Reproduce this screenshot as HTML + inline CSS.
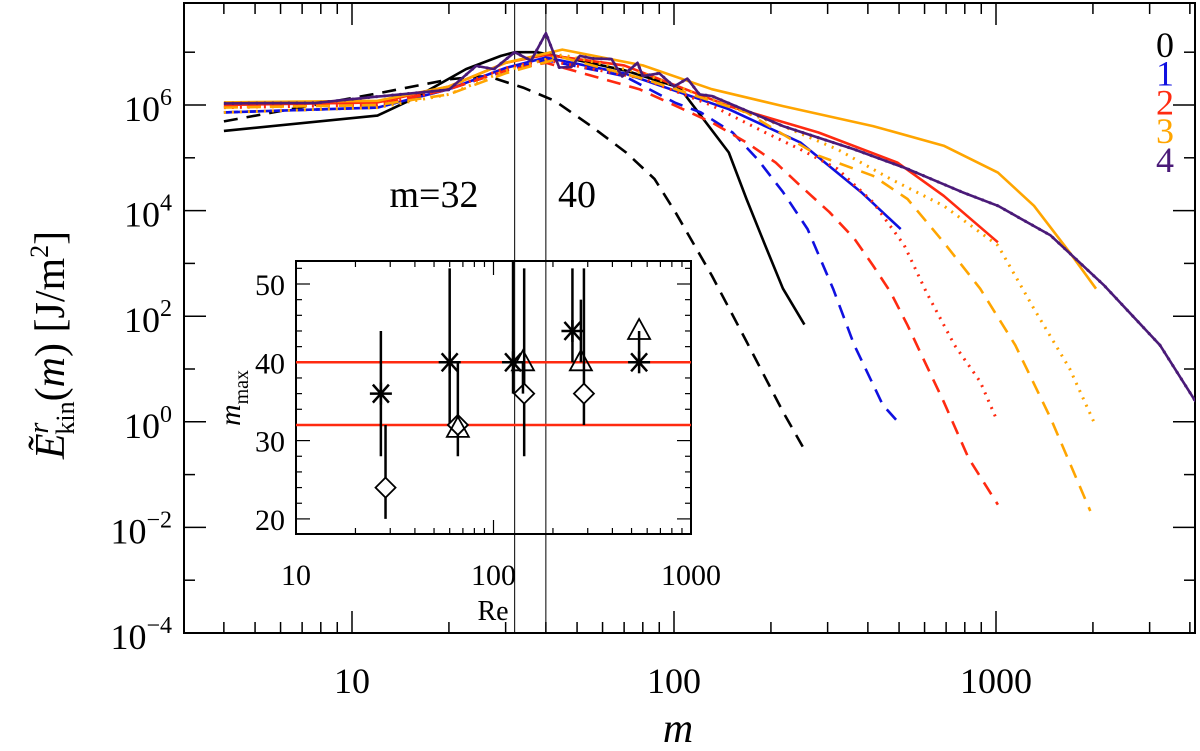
<!DOCTYPE html>
<html><head><meta charset="utf-8"><style>
html,body{margin:0;padding:0;background:#fff;}
svg{display:block;font-family:"Liberation Serif",serif;}
</style></head><body>
<svg id="chart" width="1200" height="751" viewBox="0 0 1200 751" xmlns="http://www.w3.org/2000/svg"></svg>
<script>
// ---------- main plot data (m, log10 E) ----------
const m0solid=[4,12,15.4,22.6,29,32,37.5,48.5,71,104,148,168,192,218,254];
const e0solid=[5.51,5.8,6.11,6.68,6.93,7.0,7.0,6.87,6.65,6.33,5.1,4.22,3.34,2.52,1.84];
const m0dash=[4,12,20.3,26.3,34,42.6,55,71,87,101,131,168,218,251];
const e0dash=[5.69,6.22,6.49,6.55,6.33,6.08,5.61,5.1,4.6,3.97,2.77,1.52,0.19,-0.47];
const m1solid=[4,12,20,30,40,70,148,247,381,506];
const e1solid=[5.86,5.95,6.3,6.7,6.9,6.6,5.92,5.29,4.35,3.65];
const m1dash=[4,12,20,30,40,70,101,121,152,182,218,260,312,363,445,506];
const e1dash=[5.86,5.95,6.3,6.65,6.85,6.55,6.04,5.86,5.48,4.97,4.35,3.65,2.52,1.45,0.32,-0.06];
const m2solid=[4,12,20,30,40,70,148,281,494,688,1014];
const e2solid=[6.0,6.05,6.35,6.8,6.95,6.75,5.98,5.48,4.91,4.28,3.4];
const m2dash=[4,12,20,30,40,78,131,168,207,247,304,363,415,470,531,607,688,822,1014];
const e2dash=[5.97,6.0,6.3,6.65,6.8,6.3,5.67,5.29,4.91,4.47,3.97,3.47,2.96,2.46,1.83,1.08,0.38,-0.69,-1.57];
const m2dot=[4,12,20,30,40,80,130,192,247,322,415,519,607,744,893,1000];
const e2dot=[5.95,6.0,6.3,6.7,6.85,6.5,6.0,5.48,5.16,4.79,4.16,3.34,2.46,1.45,0.76,0.07];
const m3solid=[4,12,20,30,45,80,131,218,415,688,1014,1312,1693,2045];
const e3solid=[6.05,6.08,6.35,6.8,7.05,6.75,6.3,5.98,5.6,5.23,4.72,4.09,3.21,2.52];
const m3dash=[4,12,20,30,45,80,168,281,415,531,688,893,1148,1478,1963];
const e3dash=[5.95,6.0,6.2,6.6,6.9,6.5,5.86,5.04,4.66,4.22,3.4,2.52,1.45,0.07,-1.69];
const m3dot=[4,12,20,30,45,80,131,218,322,470,688,1014,1312,1693,2045];
const e3dot=[5.86,5.95,6.2,6.65,6.95,6.6,6.1,5.6,5.16,4.6,4.09,3.34,2.14,1.01,-0.09];
const m4solid=[4,7.7,12,20,24.3,27.6,32,36,40,44,48,51,56,64,69,77,80,90,100,110,120,131,218,363,531,785,1014,1478,2170,3230,4170];
const e4solid=[6.03,6.04,6.16,6.29,6.74,6.68,7.0,6.84,7.36,6.71,6.72,6.93,6.88,6.87,6.54,6.8,6.55,6.6,6.35,6.5,6.2,6.17,5.6,5.16,4.79,4.35,4.09,3.53,2.58,1.45,0.38];
// ---------- inset data ----------
const starRe=[26.9,60,125.6,251,546];
const starM=[36,40,40,44,40];
const starLo=[28,32,36,40,40];
const starHi=[44,52,56,52,40];
const diaRe=[28.4,66,143,287];
const diaM=[24,32,36,36];
const diaLo=[20,28,28,32];
const diaHi=[32,40,52,52];
const triRe=[66,141,277,546];
const triM=[31.5,40,40,44];
const triLo=[31.5,36,40,40];
const triHi=[31.5,40,48,44];
const refLines=[32,40];
const vLines=[32,40];
const legendLabels=['0','1','2','3','4'];
const xTickLabels=['10','100','1000'];

const NS='http://www.w3.org/2000/svg';
const svg=document.getElementById('chart');
function mk(tag,attrs,parent){const e=document.createElementNS(NS,tag);for(const k in attrs)e.setAttribute(k,attrs[k]);(parent||svg).appendChild(e);return e;}
const L=184,R=1195,T=3,B=633;
const xs=m=>352+(Math.log10(m)-1)*322;
const ys=le=>B-(le+4)*52.8;
const IL=296,IR=691,IT=261,IB=534;
const ixs=r=>IL+(Math.log10(r)-1)*197.5;
const iys=v=>284+(50-v)*7.83;

const defs=mk('defs',{});
const cp=mk('clipPath',{id:'plotclip'},defs);
mk('rect',{x:L,y:T,width:R-L,height:B-T},cp);

const gAx=mk('g',{});


mk('rect',{x:L,y:T,width:R-L,height:B-T,fill:'none',stroke:'#000','stroke-width':2},gAx);
for(let d=0;d<=3;d++){for(let k=1;k<10;k++){const m=Math.pow(10,d)*k;const x=xs(m);if(x<L||x>R)continue;const len=k===1?22:11;
mk('line',{x1:x,y1:B,x2:x,y2:B-len,stroke:'#000','stroke-width':1.5},gAx);mk('line',{x1:x,y1:T,x2:x,y2:T+len,stroke:'#000','stroke-width':1.5},gAx);}}
xTickLabels.forEach((t,i)=>{const tx=mk('text',{x:xs(Math.pow(10,i+1)),y:693,'text-anchor':'middle','font-size':36});tx.textContent=t;});
for(let p=-4;p<=7;p++){const y=ys(p);const len=p%2===0?22:11;
mk('line',{x1:L,y1:y,x2:L+len,y2:y,stroke:'#000','stroke-width':1.5},gAx);mk('line',{x1:R,y1:y,x2:R-len,y2:y,stroke:'#000','stroke-width':1.5},gAx);}
for(let p=-4;p<=6;p+=2){const t=mk('text',{x:172,y:ys(p)+16,'text-anchor':'end','font-size':36});

const base=document.createElementNS(NS,'tspan');base.textContent='10';t.appendChild(base);
const sup=document.createElementNS(NS,'tspan');sup.setAttribute('dy','-16');sup.setAttribute('font-size','24');sup.textContent=String(p).replace('-','\u2212');t.appendChild(sup);}
const xt=mk('text',{x:678,y:742,'text-anchor':'middle','font-size':42,'font-style':'italic'});
xt.textContent='m';
const yt=mk('text',{x:0,y:0,'text-anchor':'middle','font-size':42,transform:'translate(64,345) rotate(-90)'});

yt.innerHTML='<tspan font-style="italic">Ẽ</tspan><tspan font-style="italic" font-size="28" dy="-16">r</tspan><tspan font-size="26" dy="26" dx="-12">kin</tspan><tspan dy="-10">(</tspan><tspan font-style="italic">m</tspan><tspan>)  [J/m</tspan><tspan font-size="26" dy="-16">2</tspan><tspan dy="16">]</tspan>';
vLines.forEach(m=>{const l=mk('line',{x1:xs(m),y1:T,x2:xs(m),y2:B,stroke:'#000','stroke-width':1});});
const ann1=mk('text',{x:434,y:207,'text-anchor':'middle','font-size':38});ann1.textContent='m=32';
const ann2=mk('text',{x:577,y:207,'text-anchor':'middle','font-size':38});ann2.textContent='40';

const colors=['#000000','#1010e0','#ff2a10','#ffa500','#4a1a78'];
const series=[
 [m0solid,e0solid,0,'solid'],[m0dash,e0dash,0,'dash'],
 [m1solid,e1solid,1,'solid'],[m1dash,e1dash,1,'dash'],
 [m2solid,e2solid,2,'solid'],[m2dash,e2dash,2,'dash'],[m2dot,e2dot,2,'dot'],
 [m3solid,e3solid,3,'solid'],[m3dash,e3dash,3,'dash'],[m3dot,e3dot,3,'dot'],
 [m4solid,e4solid,4,'dot'],[m4solid,e4solid,4,'solid']];
const gS=mk('g',{'clip-path':'url(#plotclip)'});
series.forEach(s=>{const [mm,ee,ci,st]=s;
 const d=mm.map((m,i)=>(i?'L':'M')+xs(m).toFixed(1)+','+ys(ee[i]).toFixed(1)).join('');
 const attrs={d:d,fill:'none',stroke:colors[ci],'stroke-width':st==='dot'?3:2.6,'stroke-linejoin':'round'};
 if(st==='dash')attrs['stroke-dasharray']='14 9';
 if(st==='dot')attrs['stroke-dasharray']='2 6';
 const p=mk('path',attrs,gS);
 
 });
legendLabels.forEach((t,i)=>{const tx=mk('text',{x:1165,y:57+i*28.7,'text-anchor':'middle','font-size':36,fill:colors[i]});
tx.textContent=t;});

const gI=mk('g',{});


mk('rect',{x:IL,y:IT,width:IR-IL,height:IB-IT,fill:'none',stroke:'#000','stroke-width':2},gI);
for(let d=1;d<=2;d++){for(let k=1;k<10;k++){const x=ixs(Math.pow(10,d)*k);if(x<=IL+1)continue;const len=k===1?14:6;
mk('line',{x1:x,y1:IB,x2:x,y2:IB-len,stroke:'#000','stroke-width':1.2},gI);mk('line',{x1:x,y1:IT,x2:x,y2:IT+len,stroke:'#000','stroke-width':1.2},gI);}}
for(let v=20;v<=52;v+=2){const y=iys(v);const len=v%10===0?14:6;
mk('line',{x1:IL,y1:y,x2:IL+len,y2:y,stroke:'#000','stroke-width':1.2},gI);mk('line',{x1:IR,y1:y,x2:IR-len,y2:y,stroke:'#000','stroke-width':1.2},gI);}
[20,30,40,50].forEach(v=>{const t=mk('text',{x:285,y:iys(v)+11,'text-anchor':'end','font-size':30});t.textContent=v;});
[10,100,1000].forEach(v=>{const t=mk('text',{x:ixs(v),y:585,'text-anchor':'middle','font-size':30});t.textContent=v;});
const ix=mk('text',{x:493,y:620,'text-anchor':'middle','font-size':28});ix.textContent='Re';
const iy=mk('text',{x:0,y:0,'text-anchor':'middle','font-size':30,transform:'translate(240,398) rotate(-90)'});

iy.innerHTML='<tspan font-style="italic">m</tspan><tspan font-size="20" dy="8">max</tspan>';
refLines.forEach(v=>{const l=mk('line',{x1:IL,y1:iys(v),x2:IR,y2:iys(v),stroke:'#ff2a10','stroke-width':2.5});});
function ebar(x,lo,hi){mk('line',{x1:x,y1:Math.max(IT,iys(hi)),x2:x,y2:iys(lo),stroke:'#000','stroke-width':2.5});}
starRe.forEach((r,i)=>{const x=ixs(r),y=iys(starM[i]);ebar(x,starLo[i],starHi[i]);
 const g=mk('g',{stroke:'#000','stroke-width':2.5});
 [[-11,0,11,0],[-8,-9,8,9],[-8,9,8,-9],[0,-11,0,11]].forEach(a=>mk('line',{x1:x+a[0],y1:y+a[1],x2:x+a[2],y2:y+a[3]},g));});
diaRe.forEach((r,i)=>{const x=ixs(r),y=iys(diaM[i]);ebar(x,diaLo[i],diaHi[i]);
 const p=mk('path',{d:`M${x},${y-10}L${x+10},${y}L${x},${y+10}L${x-10},${y}Z`,fill:'#fff',stroke:'#000','stroke-width':1.8});
 });
triRe.forEach((r,i)=>{const x=ixs(r),y=iys(triM[i]);ebar(x,triLo[i],triHi[i]);
 const p=mk('path',{d:`M${x},${y-12}L${x+11},${y+8}L${x-11},${y+8}Z`,fill:'none',stroke:'#000','stroke-width':1.8});
 });
</script>
</body></html>
